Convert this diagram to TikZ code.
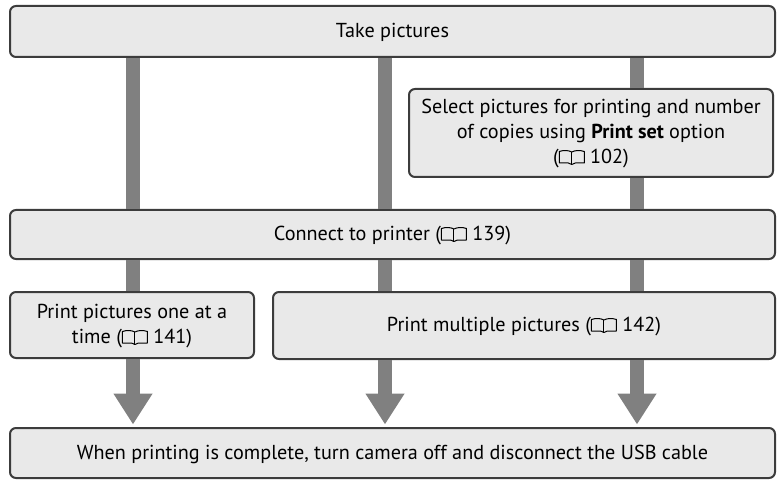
\documentclass[tikz,border=0pt]{standalone}
\usepackage{fontspec}
\setmainfont{PT Sans}
\usetikzlibrary{arrows.meta}
\definecolor{boxfill}{HTML}{E9E9E9}
\definecolor{boxline}{HTML}{3C3C3C}
\definecolor{flow}{HTML}{808080}
\newsavebox{\bookbox}
\sbox{\bookbox}{\tikz[x=1pt,y=1pt,line width=1pt,line join=round]{
  \draw (0,1.5) -- (0,13) .. controls (4,14.4) and (9,14.4) .. (12.5,12.5) .. controls (16,14.4) and (21,14.4) .. (25,13) -- (25,1.5) -- (16,1.5) .. controls (14.5,1.5) and (14,0) .. (12.5,0) .. controls (11,0) and (10.5,1.5) .. (9,1.5) -- cycle;
  \draw (12.5,12.5) -- (12.5,0);
}}
\newcommand{\bookicon}{\raisebox{-1.5pt}{\usebox{\bookbox}}}
\tikzset{
  stagebox/.style={draw=boxline,fill=boxfill,line width=2pt,rounded corners=6pt,align=center,
    font=\fontsize{20.2}{25}\selectfont,inner sep=0pt,anchor=center,text height=18pt,text depth=6pt},
  flowline/.style={draw=flow,line width=14pt},
  flowarrow/.style={flowline,-{Triangle[width=37pt,length=31pt]},shorten >=2.5pt}
}
\begin{document}
\begin{tikzpicture}[x=1pt,y=-1pt]
\useasboundingbox (0,0) rectangle (779,481);
\coordinate (colA) at (133,0);
\coordinate (colB) at (385,0);
\coordinate (colC) at (637,0);
\node[stagebox,minimum width=765pt,minimum height=51pt] (take) at (392.5,31.5) {Take pictures};
\node[stagebox,minimum width=364pt,minimum height=88pt,text height=66pt,text depth=5pt] (select) at (591,133) {Select pictures for printing and number\\of copies using \textbf{Print set} option\\(\bookicon\ 102)};
\node[stagebox,minimum width=765pt,minimum height=49pt] (connect) at (392.5,234.5) {Connect to printer (\bookicon\ 139)};
\node[stagebox,minimum width=244pt,minimum height=66pt,text height=42pt,text depth=5pt] (single) at (132,325) {Print pictures one at a\\time (\bookicon\ 141)};
\node[stagebox,minimum width=502pt,minimum height=67pt] (multi) at (524,325.5) {Print multiple pictures (\bookicon\ 142)};
\node[stagebox,minimum width=765pt,minimum height=50pt] (finish) at (392.5,453) {When printing is complete, turn camera off and disconnect the USB cable};
\draw[flowline] (take.south -| colA) -- (connect.north -| colA);
\draw[flowline] (take.south -| colB) -- (connect.north -| colB);
\draw[flowline] (take.south -| colC) -- (select.north -| colC);
\draw[flowline] (select.south -| colC) -- (connect.north -| colC);
\draw[flowline] (connect.south -| colA) -- (single.north -| colA);
\draw[flowline] (connect.south -| colB) -- (multi.north -| colB);
\draw[flowline] (connect.south -| colC) -- (multi.north -| colC);
\draw[flowarrow] (single.south -| colA) -- (finish.north -| colA);
\draw[flowarrow] (multi.south -| colB) -- (finish.north -| colB);
\draw[flowarrow] (multi.south -| colC) -- (finish.north -| colC);
\end{tikzpicture}
\end{document}
